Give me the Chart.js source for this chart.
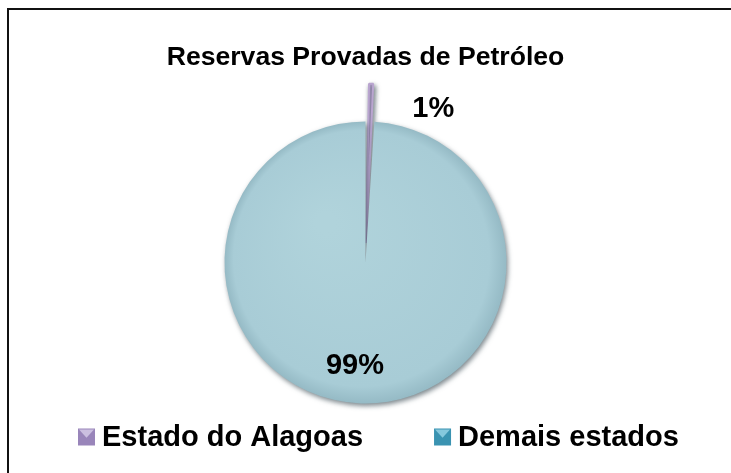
<!DOCTYPE html>
<html>
<head>
<meta charset="utf-8">
<title>Reservas Provadas de Petróleo</title>
<script src="https://cdn.jsdelivr.net/npm/chart.js@4.4.1/dist/chart.umd.min.js"></script>
<style>
  html, body { margin: 0; padding: 0; background: #fff; }
  #grafico { display: block; }
</style>
</head>
<body>
<canvas id="grafico" width="731" height="473"></canvas>
<script>
// dados do grafico
const titulo = 'Reservas Provadas de Petróleo';
const categorias = ['Estado do Alagoas', 'Demais estados'];
const valores = [1, 99];

// aparencia
const coresFatia = ['#B9A5CF', '#A9CDD7'];
const coresLegenda = [['#CBBFE0', '#9985BA'], ['#86C8DD', '#3A93B1']];
const RAIO = 141;
const fonte = '"Liberation Sans", Arial, Helvetica, sans-serif';

// posicao dos rotulos em relacao a fatia (graus / fracao do raio)
const giroRotulo = [22, 4];
const raioRotulo = [1.19, 0.74];

function corFatia(ctx) {
  const area = ctx.chart.chartArea;
  if (!area || ctx.dataIndex === 0) return coresFatia[ctx.dataIndex];
  const cx = (area.left + area.right) / 2;
  const cy = (area.top + area.bottom) / 2;
  const g = ctx.chart.ctx.createRadialGradient(cx - 40, cy - 40, 10, cx, cy, RAIO);
  g.addColorStop(0, '#B0D3DB');
  g.addColorStop(0.9, '#A8CCD6');
  g.addColorStop(1, '#95BAC5');
  return g;
}

// moldura (so a esquerda e o topo aparecem)
const moldura = {
  id: 'moldura',
  beforeDraw(chart) {
    const c = chart.ctx;
    c.save();
    c.strokeStyle = '#111';
    c.lineWidth = 2;
    c.beginPath();
    c.moveTo(8, chart.height);
    c.lineTo(8, 9);
    c.lineTo(chart.width, 9);
    c.stroke();
    c.restore();
  }
};

// sombra leve sob a pizza
const sombra = {
  id: 'sombra',
  beforeDatasetsDraw(chart) {
    const c = chart.ctx;
    c.save();
    c.shadowColor = 'rgba(20,40,50,0.55)';
    c.shadowBlur = 5;
    c.shadowOffsetX = 1.5;
    c.shadowOffsetY = 2.5;
  },
  afterDatasetsDraw(chart) {
    chart.ctx.restore();
  }
};

// percentuais sobre as fatias
const rotulosFatias = {
  id: 'rotulosFatias',
  afterDatasetsDraw(chart) {
    const c = chart.ctx;
    const total = valores.reduce((a, b) => a + b, 0);
    c.save();
    c.font = 'bold 29px ' + fonte;
    c.fillStyle = '#000';
    c.textAlign = 'center';
    c.textBaseline = 'middle';
    chart.getDatasetMeta(0).data.forEach((arco, i) => {
      const p = arco.getProps(['x', 'y', 'startAngle', 'endAngle', 'outerRadius'], true);
      const ang = (p.startAngle + p.endAngle) / 2 + giroRotulo[i] * Math.PI / 180;
      const r = p.outerRadius * raioRotulo[i];
      const pct = Math.round(valores[i] / total * 100) + '%';
      c.fillText(pct, p.x + Math.cos(ang) * r, p.y + Math.sin(ang) * r);
    });
    c.restore();
  }
};

// legenda embaixo
const legenda = {
  id: 'legenda',
  afterDraw(chart) {
    const c = chart.ctx;
    const lado = 17, y = 437;
    let x = 78;
    c.save();
    c.font = 'bold 29px ' + fonte;
    c.textAlign = 'left';
    c.textBaseline = 'middle';
    categorias.forEach((nome, i) => {
      const topo = y - lado / 2;
      c.fillStyle = coresLegenda[i][1];
      c.fillRect(x, topo, lado, lado);
      c.fillStyle = coresLegenda[i][0];
      c.beginPath();
      c.moveTo(x + 1, topo + 1);
      c.lineTo(x + lado - 1, topo + 1);
      c.lineTo(x + lado / 2, topo + lado * 0.55);
      c.closePath();
      c.fill();
      c.fillStyle = '#000';
      c.fillText(nome, x + lado + 7, y + 1);
      x += lado + 7 + c.measureText(nome).width + 71;
    });
    c.restore();
  }
};

new Chart('grafico', {
  type: 'pie',
  data: {
    labels: categorias,
    datasets: [{
      data: valores,
      backgroundColor: corFatia,
      borderColor: coresFatia,
      borderWidth: [2, 0],
      // fatia de Alagoas destacada para fora
      offset: [78, 0]
    }]
  },
  options: {
    responsive: false,
    animation: false,
    radius: RAIO,
    layout: { padding: { top: 0, bottom: 22, left: 0, right: 0 } },
    plugins: {
      title: {
        display: true,
        text: titulo,
        color: '#000',
        font: { family: fonte, size: 26.6, weight: 'bold' },
        padding: { top: 42, bottom: 0 }
      },
      legend: { display: false },
      tooltip: { enabled: false }
    }
  },
  plugins: [moldura, sombra, rotulosFatias, legenda]
});
</script>
</body>
</html>
